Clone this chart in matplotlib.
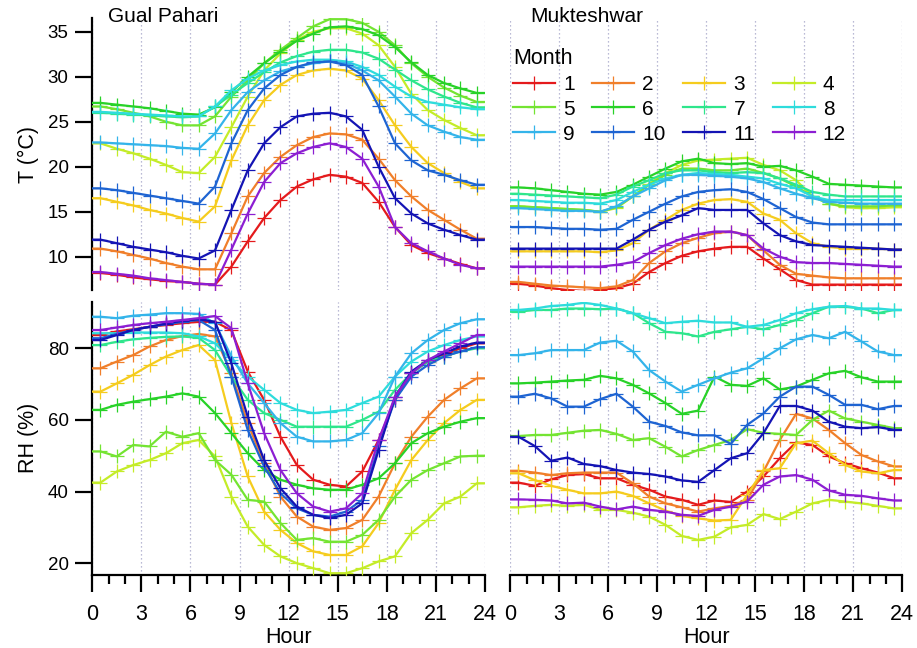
import numpy as np
import matplotlib
matplotlib.use("Agg")
import matplotlib.pyplot as plt
from matplotlib.ticker import MultipleLocator

plt.rcParams['font.family'] = ['Liberation Sans', 'DejaVu Sans']

# Hour-of-day bins (values are bin centres)
hours = np.arange(24) + 0.5
months = list(range(1, 13))
month_colors = ['#e41a1c', '#f07f2a', '#f5cc1e', '#c4ec28', '#74e432', '#28d228',
                '#2ee68c', '#2edcdc', '#34b4ea', '#1e64d2', '#1414b4', '#8c1ed2']
x_ticks = [0, 3, 6, 9, 12, 15, 18, 21, 24]
t_ticks = [10, 15, 20, 25, 30, 35]
rh_ticks = [20, 40, 60, 80]
stations = ['Gual Pahari', 'Mukteshwar']

# Temperature (deg C), Gual Pahari
gp_t = {
    1: [8.2, 8.0, 7.7, 7.5, 7.3, 7.2, 7.0, 6.9, 8.9, 11.7, 14.3, 16.3, 17.8, 18.6, 19.1, 18.9, 18.2, 16.1, 13.3, 11.3, 10.4, 9.8, 9.2, 8.7],
    2: [10.9, 10.6, 10.2, 9.8, 9.3, 8.9, 8.6, 8.6, 12.6, 16.7, 19.3, 21.1, 22.4, 23.3, 23.7, 23.6, 23.0, 20.9, 18.5, 16.7, 15.2, 14.1, 13.0, 12.0],
    3: [16.5, 16.1, 15.7, 15.2, 14.8, 14.3, 13.9, 15.6, 20.7, 24.6, 27.4, 29.1, 30.2, 30.7, 30.9, 30.7, 29.8, 27.4, 24.6, 22.2, 20.4, 19.3, 18.3, 17.6],
    4: [22.6, 22.0, 21.5, 20.9, 20.2, 19.4, 19.3, 21.1, 24.4, 27.8, 30.7, 32.6, 34.1, 35.0, 35.4, 35.4, 34.8, 33.5, 31.1, 28.1, 26.3, 25.2, 24.3, 23.5],
    5: [26.7, 26.4, 26.0, 25.6, 25.0, 24.6, 24.6, 25.6, 27.8, 29.6, 31.5, 33.0, 34.3, 35.6, 36.4, 36.4, 36.0, 35.0, 33.5, 31.5, 30.0, 28.8, 27.9, 27.2],
    6: [27.1, 26.9, 26.7, 26.5, 26.2, 25.9, 25.8, 26.6, 28.3, 30.0, 31.5, 32.8, 34.0, 34.8, 35.5, 35.6, 35.3, 34.6, 33.3, 31.6, 30.2, 29.3, 28.7, 28.2],
    7: [26.0, 25.9, 25.8, 25.7, 25.6, 25.5, 25.6, 26.7, 28.0, 29.3, 30.5, 31.6, 32.3, 32.8, 33.0, 33.0, 32.7, 32.0, 30.8, 29.6, 28.6, 27.8, 27.1, 26.6],
    8: [26.1, 26.0, 25.9, 25.8, 25.7, 25.6, 25.6, 26.7, 28.5, 29.8, 30.7, 31.3, 31.7, 31.9, 31.9, 31.7, 31.1, 30.2, 28.9, 27.8, 27.2, 26.9, 26.6, 26.4],
    9: [22.7, 22.6, 22.5, 22.4, 22.3, 22.1, 22.0, 23.7, 26.3, 28.3, 29.6, 30.6, 31.1, 31.5, 31.7, 31.5, 30.7, 29.6, 27.8, 25.9, 24.6, 23.9, 23.3, 23.0],
    10: [17.6, 17.4, 17.1, 16.8, 16.5, 16.2, 15.9, 17.8, 22.6, 26.3, 28.7, 30.2, 31.1, 31.6, 31.7, 31.3, 30.2, 26.7, 22.6, 20.7, 19.6, 19.1, 18.5, 18.0],
    11: [11.9, 11.5, 11.1, 10.8, 10.5, 10.1, 9.8, 10.7, 15.2, 19.6, 22.6, 24.4, 25.6, 25.9, 26.0, 25.6, 24.1, 20.0, 16.5, 14.8, 13.7, 13.0, 12.4, 11.9],
    12: [8.3, 8.1, 7.9, 7.6, 7.4, 7.2, 7.0, 6.9, 10.8, 14.8, 18.3, 20.4, 21.5, 22.2, 22.6, 22.2, 20.9, 17.8, 13.3, 11.5, 10.6, 9.8, 9.1, 8.7],
}

# Temperature (deg C), Mukteshwar
mk_t = {
    1: [7.0, 6.8, 6.5, 6.3, 6.2, 6.3, 6.5, 7.0, 8.3, 9.3, 10.1, 10.6, 10.9, 11.1, 11.1, 9.8, 8.6, 7.4, 6.9, 6.9, 6.9, 6.9, 6.9, 6.9],
    2: [7.2, 7.0, 6.8, 6.7, 6.6, 6.5, 6.7, 7.4, 9.3, 10.6, 11.5, 12.1, 12.6, 12.8, 12.4, 10.7, 9.1, 8.1, 7.9, 7.7, 7.6, 7.6, 7.6, 7.6],
    3: [10.6, 10.6, 10.6, 10.6, 10.6, 10.5, 10.7, 11.5, 13.0, 14.1, 15.2, 15.9, 16.3, 16.4, 16.1, 14.8, 14.1, 12.6, 11.5, 11.1, 10.9, 10.9, 10.9, 10.8],
    4: [15.6, 15.5, 15.4, 15.3, 15.2, 15.0, 15.4, 16.7, 18.1, 19.3, 20.2, 20.7, 20.8, 20.9, 21.0, 20.2, 19.6, 18.5, 16.7, 15.9, 15.5, 15.4, 15.4, 15.5],
    5: [15.6, 15.5, 15.4, 15.3, 15.2, 15.0, 15.5, 16.7, 18.0, 19.1, 19.8, 19.8, 19.6, 19.6, 19.8, 19.3, 18.7, 17.8, 16.7, 15.9, 15.6, 15.6, 15.6, 15.7],
    6: [17.7, 17.6, 17.4, 17.2, 17.0, 16.9, 17.2, 18.0, 18.9, 19.8, 20.6, 20.9, 20.4, 20.3, 20.4, 20.0, 20.1, 19.6, 18.9, 18.1, 18.0, 17.9, 17.8, 17.7],
    7: [17.0, 16.9, 16.8, 16.7, 16.6, 16.5, 16.9, 17.8, 18.5, 19.3, 19.6, 19.6, 19.4, 19.3, 19.4, 19.3, 18.7, 18.0, 17.2, 16.9, 16.7, 16.7, 16.7, 16.7],
    8: [16.3, 16.2, 16.1, 16.0, 16.0, 15.9, 16.3, 17.2, 18.0, 18.7, 19.1, 19.3, 19.2, 19.1, 18.9, 18.7, 18.1, 17.6, 16.7, 16.3, 16.3, 16.3, 16.3, 16.3],
    9: [15.4, 15.3, 15.2, 15.1, 15.1, 15.0, 15.6, 16.7, 17.6, 18.5, 19.1, 19.1, 19.0, 18.9, 18.7, 18.3, 17.6, 17.0, 16.5, 16.1, 16.0, 15.9, 15.9, 15.9],
    10: [13.3, 13.3, 13.2, 13.1, 13.1, 13.0, 13.1, 14.1, 15.0, 15.9, 16.7, 17.2, 17.4, 17.5, 17.2, 16.4, 15.4, 14.4, 13.8, 13.6, 13.6, 13.6, 13.6, 13.6],
    11: [10.9, 10.9, 10.9, 10.9, 10.9, 10.9, 10.9, 11.9, 13.0, 13.9, 14.6, 15.4, 15.2, 15.2, 15.2, 13.7, 12.4, 11.7, 11.3, 11.2, 11.1, 11.0, 10.9, 10.8],
    12: [8.9, 8.9, 8.9, 8.9, 8.9, 8.9, 9.1, 9.4, 10.4, 11.3, 12.0, 12.5, 12.8, 12.8, 12.4, 10.9, 10.0, 9.4, 9.3, 9.3, 9.2, 9.1, 9.0, 8.9],
}

# Relative humidity (%), Gual Pahari
gp_rh = {
    1: [83.7, 84.7, 85.3, 86.0, 86.5, 87.0, 87.4, 87.4, 85.0, 73.5, 65.6, 55.3, 47.4, 43.3, 41.9, 41.4, 45.6, 54.4, 65.6, 73.0, 76.3, 78.1, 80.0, 81.4],
    2: [74.4, 76.3, 78.1, 80.5, 82.3, 83.4, 84.0, 83.3, 73.0, 59.1, 47.9, 38.6, 33.0, 30.2, 29.3, 29.8, 32.1, 38.6, 47.9, 55.3, 60.9, 65.6, 68.8, 71.6],
    3: [67.9, 70.2, 72.6, 75.3, 77.7, 79.5, 80.9, 76.7, 59.1, 44.2, 34.4, 29.3, 25.6, 23.3, 22.3, 22.3, 24.7, 31.2, 40.5, 48.8, 54.4, 59.1, 62.8, 65.6],
    4: [42.5, 45.6, 47.4, 48.8, 50.7, 53.5, 54.4, 49.8, 38.6, 30.2, 25.1, 21.9, 20.0, 18.6, 17.2, 17.2, 18.6, 20.5, 21.9, 28.4, 32.1, 36.7, 38.6, 42.3],
    5: [51.2, 49.8, 53.0, 52.6, 56.7, 55.3, 56.3, 48.8, 44.7, 37.7, 37.2, 31.2, 26.5, 27.0, 26.0, 26.0, 27.9, 32.1, 38.6, 43.3, 46.0, 47.9, 49.8, 50.0],
    6: [62.8, 64.2, 65.1, 65.8, 66.5, 67.4, 66.5, 61.9, 56.3, 50.7, 46.0, 43.3, 41.9, 40.9, 40.5, 40.5, 41.9, 43.7, 47.9, 53.5, 56.3, 58.1, 59.5, 60.5],
    7: [80.9, 81.8, 82.5, 82.9, 83.2, 83.3, 82.9, 79.5, 72.1, 65.6, 61.9, 60.0, 58.1, 58.1, 58.1, 58.1, 60.0, 62.3, 68.4, 73.0, 76.3, 77.7, 79.1, 80.0],
    8: [84.2, 84.2, 84.4, 84.4, 84.4, 84.2, 83.3, 81.4, 76.7, 72.1, 68.4, 64.7, 62.8, 61.9, 62.3, 62.8, 64.7, 66.5, 72.1, 76.3, 79.1, 80.9, 82.3, 83.3],
    9: [88.8, 88.4, 89.1, 89.4, 89.8, 89.8, 89.6, 87.0, 77.7, 70.2, 64.7, 59.1, 55.3, 54.0, 54.0, 54.4, 56.3, 61.9, 72.1, 78.6, 82.3, 85.1, 87.0, 88.1],
    10: [82.8, 84.0, 85.1, 86.0, 86.7, 87.4, 87.9, 85.1, 72.1, 57.2, 47.0, 39.5, 35.3, 33.5, 33.0, 34.4, 37.7, 52.6, 65.6, 72.1, 75.3, 77.7, 79.1, 80.3],
    11: [82.3, 83.7, 85.1, 86.0, 86.9, 87.7, 88.1, 87.4, 75.8, 60.9, 48.8, 40.9, 35.8, 33.5, 32.6, 33.5, 36.7, 51.6, 66.5, 73.5, 76.7, 78.6, 80.5, 81.6],
    12: [85.1, 85.8, 86.5, 87.0, 87.4, 87.9, 88.4, 89.0, 85.6, 70.2, 56.3, 46.0, 39.5, 35.8, 34.4, 35.3, 39.5, 54.4, 66.5, 73.0, 76.7, 79.1, 81.4, 83.7],
}

# Relative humidity (%), Mukteshwar
mk_rh = {
    1: [42.5, 41.6, 43.4, 44.6, 44.9, 43.7, 43.7, 41.9, 40.5, 38.6, 37.7, 36.3, 37.5, 37.1, 40.0, 44.2, 49.3, 53.7, 53.0, 49.8, 47.9, 46.5, 45.3, 43.7],
    2: [45.8, 45.3, 44.6, 45.1, 45.3, 45.3, 45.3, 42.3, 38.6, 36.7, 35.6, 34.4, 35.3, 36.0, 37.7, 45.6, 54.4, 61.7, 60.4, 57.2, 53.5, 50.2, 48.4, 47.0],
    3: [45.1, 43.2, 41.6, 40.5, 39.5, 39.5, 40.0, 38.8, 36.7, 34.7, 33.2, 32.5, 31.9, 32.1, 39.1, 46.0, 46.5, 53.5, 54.2, 50.7, 47.4, 45.6, 45.1, 46.0],
    4: [35.6, 36.0, 36.3, 36.0, 36.3, 34.9, 34.9, 34.1, 33.0, 30.7, 27.6, 26.5, 27.4, 30.0, 30.7, 33.7, 32.3, 34.4, 36.7, 37.7, 37.2, 36.7, 36.0, 35.3],
    5: [55.5, 55.8, 55.8, 56.4, 57.0, 57.2, 56.1, 54.4, 54.9, 52.5, 49.8, 51.6, 53.0, 54.4, 57.4, 56.4, 56.1, 55.8, 60.0, 62.6, 60.4, 59.5, 58.6, 57.7],
    6: [70.2, 70.4, 70.7, 71.0, 71.2, 72.3, 71.6, 69.8, 67.4, 64.7, 61.7, 62.6, 72.1, 69.8, 69.5, 71.6, 68.5, 69.3, 71.2, 73.0, 73.7, 71.9, 70.7, 70.7],
    7: [90.2, 90.7, 90.7, 91.1, 91.1, 90.9, 91.1, 89.8, 87.0, 84.6, 84.2, 83.3, 84.6, 85.3, 86.0, 85.3, 86.5, 87.9, 89.8, 91.6, 91.6, 91.1, 89.8, 90.7],
    8: [90.7, 91.1, 91.8, 92.1, 92.7, 92.1, 91.1, 89.8, 88.4, 87.0, 87.4, 87.7, 87.2, 87.2, 86.0, 86.5, 87.9, 89.8, 90.9, 91.6, 91.8, 91.1, 91.1, 90.7],
    9: [78.1, 78.6, 79.5, 79.5, 79.5, 81.6, 82.1, 79.1, 73.9, 70.7, 67.9, 69.8, 71.6, 73.2, 74.4, 77.2, 80.0, 82.5, 83.7, 82.8, 84.6, 81.9, 79.1, 78.1],
    10: [66.5, 67.3, 66.0, 63.7, 63.7, 65.8, 67.3, 63.7, 59.5, 58.3, 56.5, 55.7, 55.7, 53.3, 58.6, 61.8, 66.5, 69.3, 69.3, 67.0, 64.2, 64.2, 63.0, 63.9],
    11: [55.3, 52.7, 48.6, 49.5, 47.7, 47.1, 46.0, 45.3, 44.9, 44.2, 43.1, 42.7, 46.0, 49.3, 50.7, 56.3, 63.9, 63.9, 62.6, 59.5, 58.1, 57.7, 58.0, 57.2],
    12: [37.8, 37.7, 37.5, 36.7, 36.9, 35.8, 35.0, 35.8, 34.9, 34.4, 33.5, 33.2, 34.9, 35.8, 37.2, 41.9, 44.2, 44.6, 43.3, 40.3, 39.1, 38.8, 38.1, 37.5],
}

FIG_W, FIG_H = 917, 648
fig = plt.figure(figsize=(FIG_W / 100, FIG_H / 100), dpi=100)


def px_axes(x0, y0, x1, y1):
    return fig.add_axes([x0 / FIG_W, 1 - y1 / FIG_H, (x1 - x0) / FIG_W, (y1 - y0) / FIG_H])


ax_gt = px_axes(92.3, 18.3, 485.0, 290.0)
ax_mt = px_axes(510.3, 18.3, 902.3, 290.0)
ax_gr = px_axes(92.3, 301.7, 485.0, 575.0)
ax_mr = px_axes(510.3, 301.7, 902.3, 575.0)

line_x = np.r_[0.0, hours, 24.0]


def draw_series(ax, data):
    handles = []
    for m, c in zip(months, month_colors):
        v = np.asarray(data[m], dtype=float)
        y = np.r_[v[0], v, v[-1]]
        h, = ax.plot(line_x, y, color=c, lw=1.6, marker='+', ms=10, mew=0.9,
                     markevery=list(range(1, 25)), label=str(m), zorder=3)
        handles.append(h)
    return handles


handles = draw_series(ax_gt, gp_t)
draw_series(ax_mt, mk_t)
draw_series(ax_gr, gp_rh)
draw_series(ax_mr, mk_rh)

grid_color = '#a4a4c8'
tick_font = dict(family=['Liberation Sans Narrow', 'Liberation Sans', 'DejaVu Sans'])
for ax in (ax_gt, ax_mt, ax_gr, ax_mr):
    ax.set_xlim(0, 24)
    ax.xaxis.set_major_locator(MultipleLocator(3))
    ax.xaxis.set_minor_locator(MultipleLocator(1))
    ax.grid(axis='x', which='major', color=grid_color, ls=(0, (1.0, 2.2)), lw=0.9, zorder=0)
    ax.set_facecolor('none')
    for s in ax.spines.values():
        s.set_linewidth(1.6)
        s.set_visible(False)
    ax.tick_params(axis='both', which='major', direction='out', width=1.6, length=12,
                   labelsize=13.5, pad=5)
    ax.tick_params(axis='x', which='minor', direction='out', width=1.6, length=6.5)

for ax in (ax_gt, ax_mt):
    ax.set_ylim(6.3, 36.5)
for ax in (ax_gr, ax_mr):
    ax.set_ylim(16.7, 93.0)

# left column: y axes
for ax, ticks, lab in ((ax_gt, t_ticks, 'T (°C)'), (ax_gr, rh_ticks, 'RH (%)')):
    ax.spines['left'].set_visible(True)
    ax.set_yticks(ticks)
    ax.set_ylabel(lab, fontsize=15.5)
    ax.yaxis.set_label_coords(-0.135, 0.5)

# right column: no y axis
for ax in (ax_mt, ax_mr):
    ax.tick_params(axis='y', which='both', left=False, labelleft=False)

# top row: no x axis
for ax in (ax_gt, ax_mt):
    ax.tick_params(axis='x', which='both', bottom=False, labelbottom=False)

# bottom row: hour axes
for ax in (ax_gr, ax_mr):
    ax.spines['bottom'].set_visible(True)
    ax.set_xticks(x_ticks)
    ax.set_xticklabels([str(t) for t in x_ticks], fontdict=tick_font, fontsize=15.5)
    ax.tick_params(axis='x', which='major', pad=9)
    ax.set_xlabel('Hour', fontdict=tick_font, fontsize=15.5, labelpad=1)

ax_gt.text((108 - 92.3) / 392.7, 1.04, stations[0], transform=ax_gt.transAxes,
           fontsize=15, ha='left', va='top')
ax_mt.text((530 - 510.3) / 392.0, 1.04, stations[1], transform=ax_mt.transAxes,
           fontsize=15, ha='left', va='top')

# legend filled row by row (1-4, 5-8, 9-12)
ncol, nrow = 4, 3
leg_handles = [handles[r * ncol + c] for c in range(ncol) for r in range(nrow)]
leg = ax_mt.legend(handles=leg_handles, ncol=ncol, title='Month', loc='upper left',
                   bbox_to_anchor=(513 / FIG_W, 1 - 48 / FIG_H),
                   bbox_transform=fig.transFigure, frameon=False, fontsize=15,
                   title_fontsize=15.5, alignment='left', numpoints=1,
                   handlelength=2.0, handletextpad=0.4, columnspacing=0.85,
                   labelspacing=0.28, borderpad=0, borderaxespad=0)

fig.savefig('out.png', dpi=100)
